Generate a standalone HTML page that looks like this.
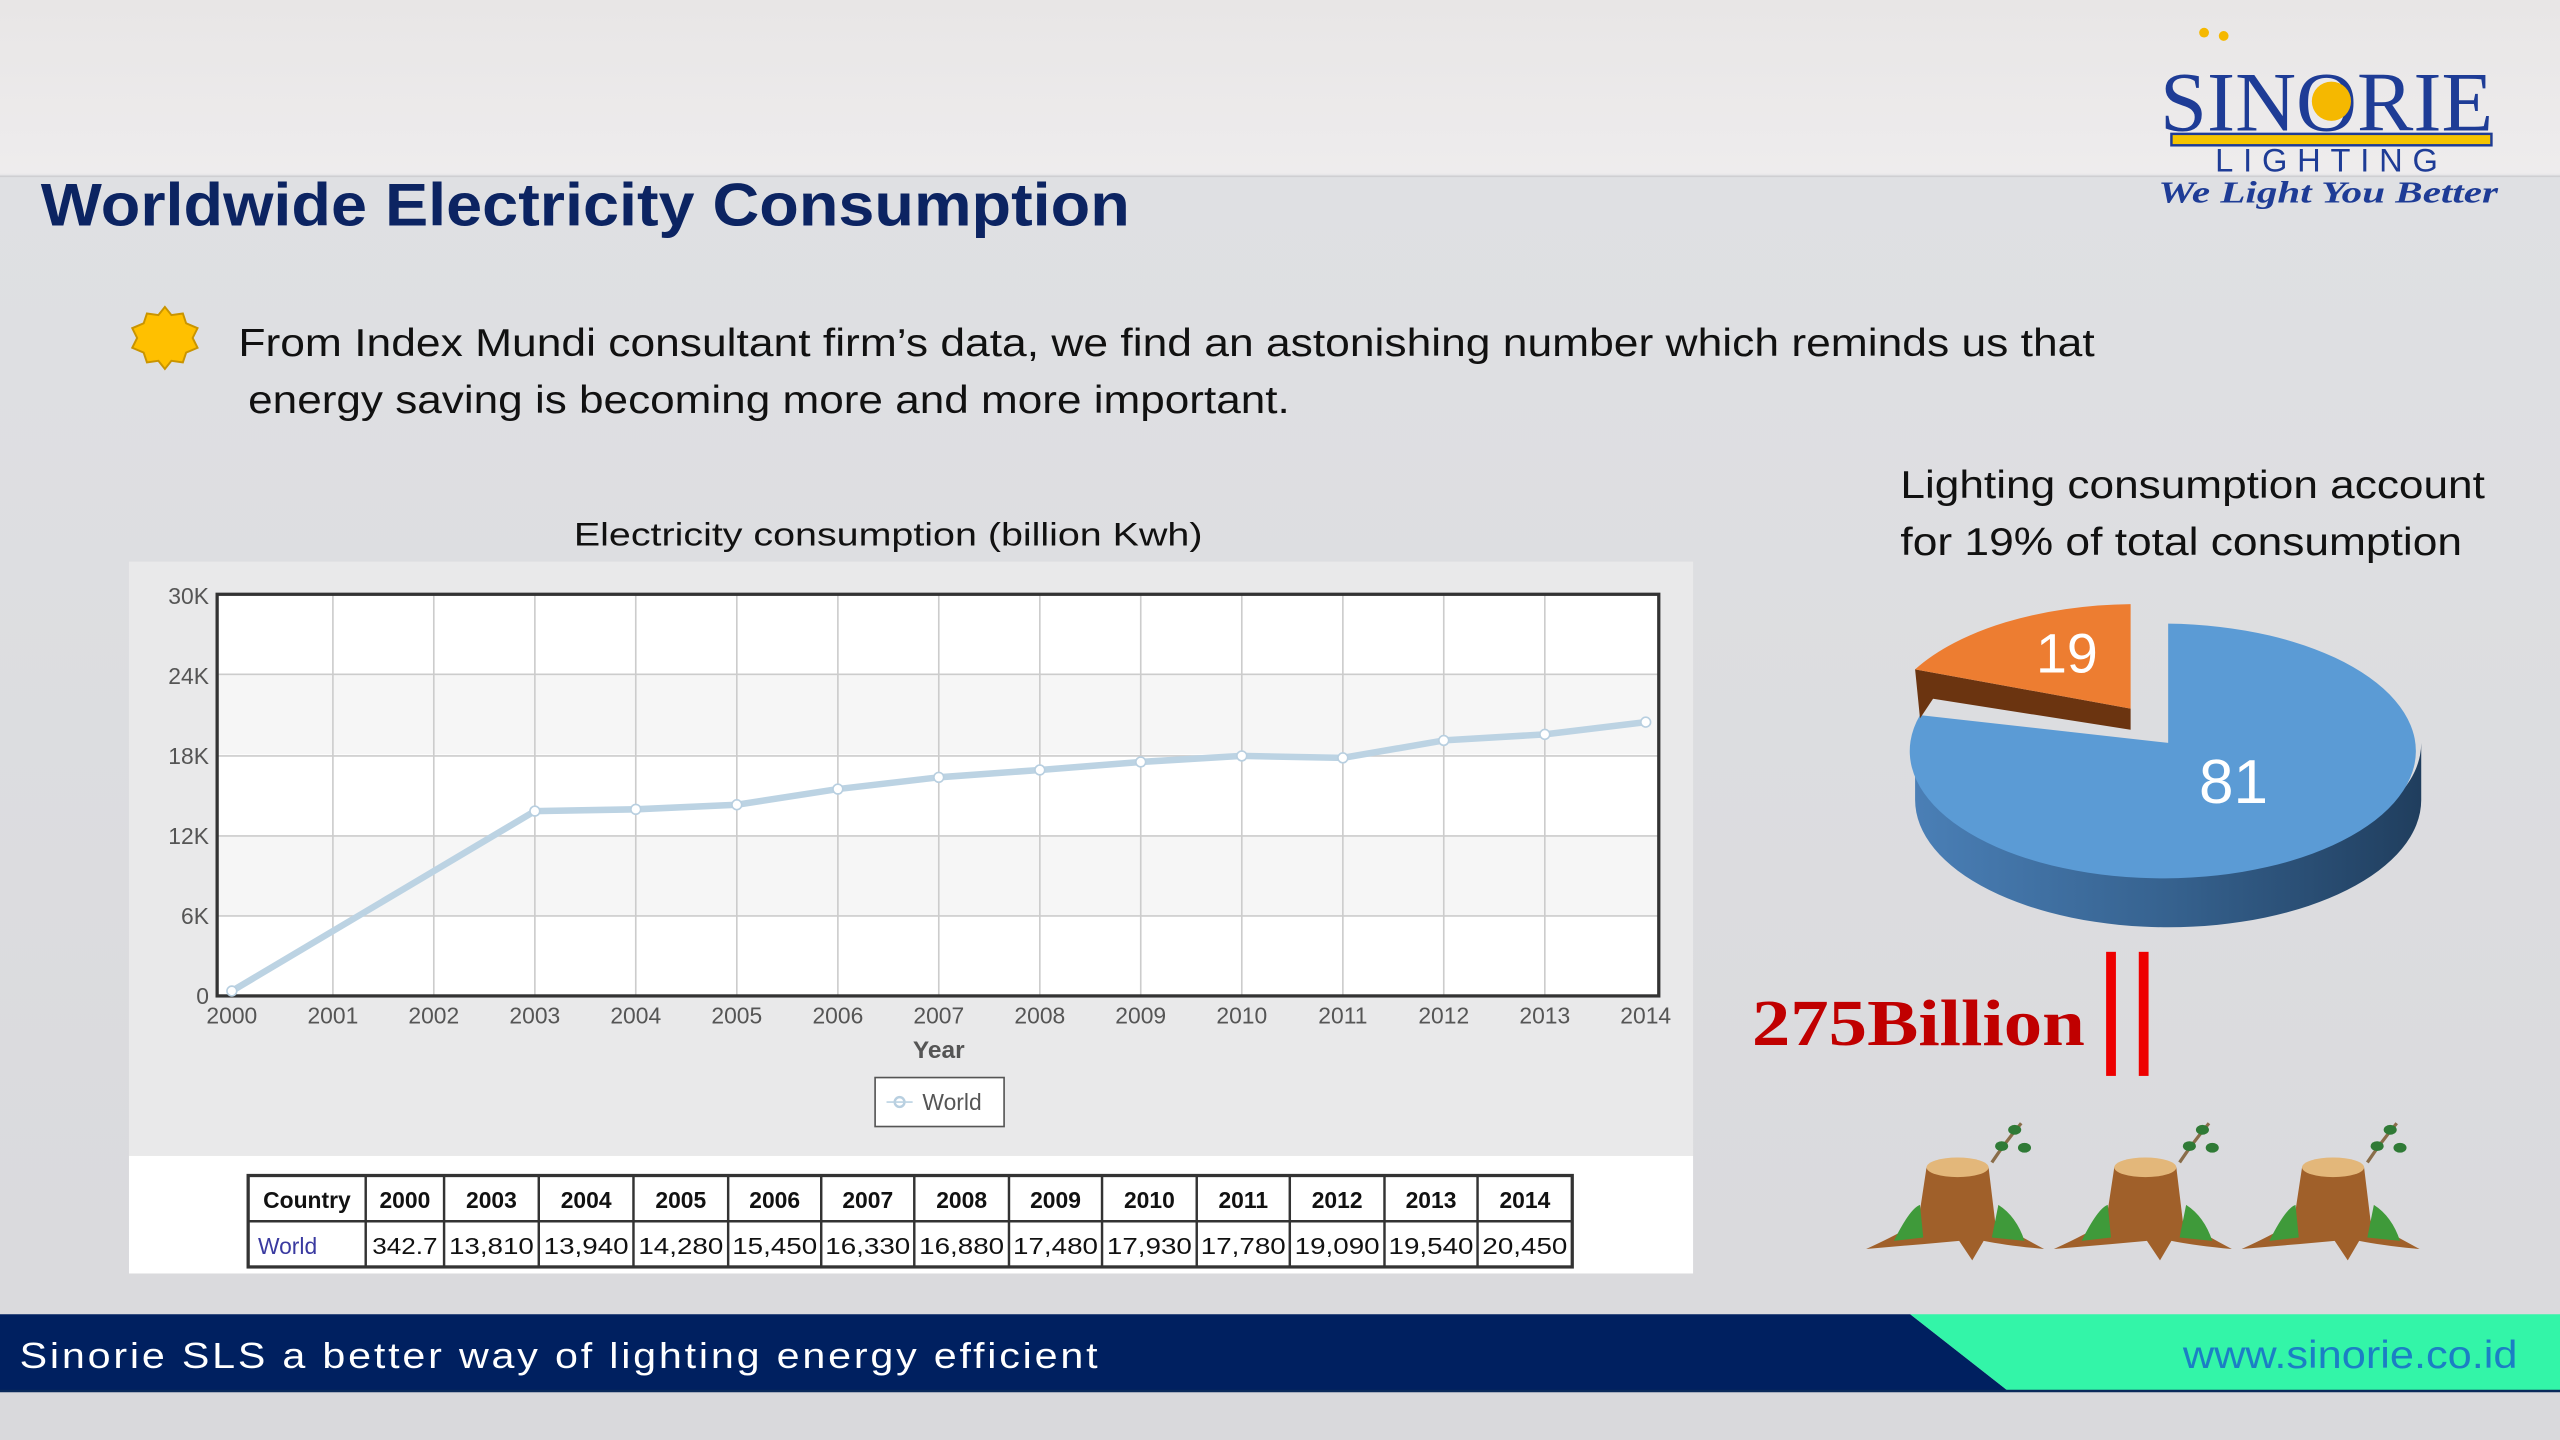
<!DOCTYPE html>
<html><head><meta charset="utf-8"><style>
html,body{margin:0;padding:0;}
body{width:2560px;height:1440px;overflow:hidden;background:#dcdde1;}
svg{display:block;}
text{font-family:"Liberation Sans",sans-serif;}
text.serif{font-family:"Liberation Serif",serif;}
</style></head><body>
<svg width="2560" height="1440" viewBox="0 0 1568 882" xmlns="http://www.w3.org/2000/svg">
<defs>
<linearGradient id="bg" x1="0" y1="0" x2="0" y2="1">
<stop offset="0" stop-color="#e8e6e6"/><stop offset="0.12" stop-color="#eeeced"/><stop offset="0.123" stop-color="#dfe0e3"/><stop offset="1" stop-color="#d9d9dc"/>
</linearGradient>
<linearGradient id="side" x1="0" y1="0" x2="1" y2="0">
<stop offset="0" stop-color="#4a7fb6"/><stop offset="0.5" stop-color="#36628f"/><stop offset="1" stop-color="#203e5e"/>
</linearGradient>
</defs>
<rect width="1568" height="882" fill="url(#bg)"/>
<line x1="0" y1="108" x2="1568" y2="108" stroke="#cfcfd2" stroke-width="1"/>

<text x="25" y="138" font-size="37" font-weight="bold" fill="#0c2462" textLength="667" lengthAdjust="spacingAndGlyphs">Worldwide Electricity Consumption</text>

<polygon points="101,188 105,193 112,192 114,198 121,201 118,207 121,213 114,216 112,222 105,221 101,226 97,221 90,222 88,216 81,213 84,207 81,201 88,198 90,192 97,193" fill="#ffc000" stroke="#c99400" stroke-width="1.2"/>
<text x="146" y="218" font-size="24" fill="#111" textLength="1137" lengthAdjust="spacingAndGlyphs">From Index Mundi consultant firm’s data, we find an astonishing number which reminds us that</text>
<text x="152" y="253" font-size="24" fill="#111" textLength="638" lengthAdjust="spacingAndGlyphs">energy saving is becoming more and more important.</text>

<text x="544" y="334" font-size="20" fill="#111" text-anchor="middle" textLength="385" lengthAdjust="spacingAndGlyphs">Electricity consumption (billion Kwh)</text>

<rect x="79" y="344" width="958" height="364" fill="#e9e9ea"/>
<rect x="133" y="364" width="883" height="246" fill="#ffffff"/>
<rect x="133" y="413" width="883" height="49" fill="#f6f6f6"/>
<rect x="133" y="512" width="883" height="49" fill="#f6f6f6"/>
<g stroke="#cccccc" stroke-width="1">
<line x1="133" y1="413" x2="1016" y2="413"/><line x1="133" y1="463" x2="1016" y2="463"/><line x1="133" y1="512" x2="1016" y2="512"/><line x1="133" y1="561" x2="1016" y2="561"/>
<line x1="203.9" y1="364" x2="203.9" y2="610"/><line x1="265.7" y1="364" x2="265.7" y2="610"/><line x1="327.6" y1="364" x2="327.6" y2="610"/><line x1="389.4" y1="364" x2="389.4" y2="610"/><line x1="451.3" y1="364" x2="451.3" y2="610"/><line x1="513.2" y1="364" x2="513.2" y2="610"/><line x1="575" y1="364" x2="575" y2="610"/><line x1="636.9" y1="364" x2="636.9" y2="610"/><line x1="698.7" y1="364" x2="698.7" y2="610"/><line x1="760.6" y1="364" x2="760.6" y2="610"/><line x1="822.5" y1="364" x2="822.5" y2="610"/><line x1="884.3" y1="364" x2="884.3" y2="610"/><line x1="946.2" y1="364" x2="946.2" y2="610"/>
</g>
<rect x="133" y="364" width="883" height="246" fill="none" stroke="#333" stroke-width="2"/>
<polyline points="142,607 327.6,496.8 389.4,495.7 451.3,492.9 513.2,483.3 575,476.1 636.9,471.6 698.7,466.7 760.6,463 822.5,464.2 884.3,453.5 946.2,449.8 1008,442.3" fill="none" stroke="#bcd3e3" stroke-width="4" stroke-linejoin="round"/>
<g fill="#fff" stroke="#b8cfe0" stroke-width="1">
<circle cx="142" cy="607" r="3"/><circle cx="327.6" cy="496.8" r="3"/><circle cx="389.4" cy="495.7" r="3"/><circle cx="451.3" cy="492.9" r="3"/><circle cx="513.2" cy="483.3" r="3"/><circle cx="575" cy="476.1" r="3"/><circle cx="636.9" cy="471.6" r="3"/><circle cx="698.7" cy="466.7" r="3"/><circle cx="760.6" cy="463" r="3"/><circle cx="822.5" cy="464.2" r="3"/><circle cx="884.3" cy="453.5" r="3"/><circle cx="946.2" cy="449.8" r="3"/><circle cx="1008" cy="442.3" r="3"/>
</g>
<g font-size="14" fill="#555" text-anchor="end">
<text x="128" y="370">30K</text><text x="128" y="419">24K</text><text x="128" y="468">18K</text><text x="128" y="517">12K</text><text x="128" y="566">6K</text><text x="128" y="615">0</text>
</g>
<g font-size="14" fill="#555" text-anchor="middle">
<text x="142" y="627">2000</text><text x="203.9" y="627">2001</text><text x="265.7" y="627">2002</text><text x="327.6" y="627">2003</text><text x="389.4" y="627">2004</text><text x="451.3" y="627">2005</text><text x="513.2" y="627">2006</text><text x="575" y="627">2007</text><text x="636.9" y="627">2008</text><text x="698.7" y="627">2009</text><text x="760.6" y="627">2010</text><text x="822.5" y="627">2011</text><text x="884.3" y="627">2012</text><text x="946.2" y="627">2013</text><text x="1008" y="627">2014</text>
</g>
<text x="575" y="648" font-size="15" font-weight="bold" fill="#555" text-anchor="middle">Year</text>
<rect x="536" y="660" width="79" height="30" fill="#fff" stroke="#555" stroke-width="1"/>
<circle cx="551" cy="675" r="3" fill="#fff" stroke="#b8cfe0" stroke-width="1.5"/>
<line x1="543" y1="675" x2="559" y2="675" stroke="#bcd3e3" stroke-width="1"/>
<text x="565" y="680" font-size="14" fill="#555">World</text>

<rect x="79" y="708" width="958" height="72" fill="#ffffff"/>
<rect x="152" y="720" width="811" height="56" fill="#fff" stroke="#333" stroke-width="2"/>
<line x1="152" y1="748" x2="963" y2="748" stroke="#333" stroke-width="1.5"/>
<g stroke="#333" stroke-width="1.5">
<line x1="224" y1="720" x2="224" y2="776"/><line x1="272" y1="720" x2="272" y2="776"/><line x1="330" y1="720" x2="330" y2="776"/><line x1="388" y1="720" x2="388" y2="776"/><line x1="446" y1="720" x2="446" y2="776"/><line x1="503" y1="720" x2="503" y2="776"/><line x1="560" y1="720" x2="560" y2="776"/><line x1="618" y1="720" x2="618" y2="776"/><line x1="675" y1="720" x2="675" y2="776"/><line x1="733" y1="720" x2="733" y2="776"/><line x1="790" y1="720" x2="790" y2="776"/><line x1="848" y1="720" x2="848" y2="776"/><line x1="905" y1="720" x2="905" y2="776"/>
</g>
<g font-size="14" fill="#111" text-anchor="middle">
<text x="188" y="740" font-weight="bold">Country</text><text x="248" y="740" font-weight="bold">2000</text><text x="301" y="740" font-weight="bold">2003</text><text x="359" y="740" font-weight="bold">2004</text><text x="417" y="740" font-weight="bold">2005</text><text x="474.5" y="740" font-weight="bold">2006</text><text x="531.5" y="740" font-weight="bold">2007</text><text x="589" y="740" font-weight="bold">2008</text><text x="646.5" y="740" font-weight="bold">2009</text><text x="704" y="740" font-weight="bold">2010</text><text x="761.5" y="740" font-weight="bold">2011</text><text x="819" y="740" font-weight="bold">2012</text><text x="876.5" y="740" font-weight="bold">2013</text><text x="934" y="740" font-weight="bold">2014</text>
<text x="248" y="768" textLength="40" lengthAdjust="spacingAndGlyphs">342.7</text><text x="301" y="768" textLength="52" lengthAdjust="spacingAndGlyphs">13,810</text><text x="359" y="768" textLength="52" lengthAdjust="spacingAndGlyphs">13,940</text><text x="417" y="768" textLength="52" lengthAdjust="spacingAndGlyphs">14,280</text><text x="474.5" y="768" textLength="52" lengthAdjust="spacingAndGlyphs">15,450</text><text x="531.5" y="768" textLength="52" lengthAdjust="spacingAndGlyphs">16,330</text><text x="589" y="768" textLength="52" lengthAdjust="spacingAndGlyphs">16,880</text><text x="646.5" y="768" textLength="52" lengthAdjust="spacingAndGlyphs">17,480</text><text x="704" y="768" textLength="52" lengthAdjust="spacingAndGlyphs">17,930</text><text x="761.5" y="768" textLength="52" lengthAdjust="spacingAndGlyphs">17,780</text><text x="819" y="768" textLength="52" lengthAdjust="spacingAndGlyphs">19,090</text><text x="876.5" y="768" textLength="52" lengthAdjust="spacingAndGlyphs">19,540</text><text x="934" y="768" textLength="52" lengthAdjust="spacingAndGlyphs">20,450</text>
</g>
<text x="158" y="768" font-size="14" fill="#3a3aa0">World</text>

<text x="1164" y="305" font-size="24" fill="#111" textLength="358" lengthAdjust="spacingAndGlyphs">Lighting consumption account</text>
<text x="1164" y="340" font-size="24" fill="#111" textLength="344" lengthAdjust="spacingAndGlyphs">for 19% of total consumption</text>

<path d="M1173,455 A155,78 0 0 0 1483,455 L1483,490 A155,78 0 0 1 1173,490 Z" fill="url(#side)"/>
<path d="M1328,455 L1328,382 A155,78 0 1 1 1176,438 Z" fill="#5b9bd5"/>
<path d="M1173,410 L1305,434 L1305,447 L1184,428 L1176,440 Z" fill="#6b3410"/>
<path d="M1305,434 L1305,370 A155,78 0 0 0 1173,410 Z" fill="#ed7d31"/>
<text x="1266" y="412" font-size="34" fill="#fff" text-anchor="middle">19</text>
<text x="1368" y="492" font-size="38" fill="#fff" text-anchor="middle">81</text>

<text class="serif" x="1073" y="640" font-size="40" font-weight="bold" fill="#c00000" textLength="204" lengthAdjust="spacingAndGlyphs">275Billion</text>
<rect x="1290" y="583" width="6" height="76" fill="#ee0000"/>
<rect x="1310" y="583" width="6" height="76" fill="#ee0000"/>

<g id="st">
<path d="M1143,765 Q1165,755 1175,748 L1180,715 Q1200,708 1218,715 L1222,748 Q1235,756 1252,765 Q1230,763 1215,760 L1208,772 L1200,760 L1178,762 Z" fill="#a0602a"/>
<ellipse cx="1199" cy="715" rx="19" ry="6" fill="#e3b77a"/>
<path d="M1160,760 Q1170,740 1176,738 L1178,758 Z M1220,758 L1224,738 Q1235,745 1240,760 Z" fill="#3f9a3a"/>
<path d="M1220,712 Q1228,700 1238,688" stroke="#8a6d4a" stroke-width="2" fill="none"/>
<ellipse cx="1234" cy="692" rx="4" ry="3" fill="#2f7a36"/><ellipse cx="1226" cy="702" rx="4" ry="3" fill="#2f7a36"/><ellipse cx="1240" cy="703" rx="4" ry="3" fill="#2f7a36"/>
</g>
<use href="#st" x="115"/>
<use href="#st" x="230"/>

<polygon points="0,805 1170,805 1230,852 0,852" fill="#002060"/>
<polygon points="1170,805 1568,805 1568,852 1230,852" fill="#33f5a8"/>
<line x1="0" y1="852" x2="1568" y2="852" stroke="#0a2a5a" stroke-width="1.5"/>
<text x="12" y="838" font-size="22" fill="#fff" letter-spacing="1.5" textLength="662" lengthAdjust="spacingAndGlyphs">Sinorie SLS a better way of lighting energy efficient</text>
<text x="1542" y="838" font-size="24" fill="#1b7fc4" text-anchor="end" textLength="205" lengthAdjust="spacingAndGlyphs">www.sinorie.co.id</text>

<text class="serif" x="1323" y="80" font-size="52" fill="#1e3c96" textLength="204" lengthAdjust="spacingAndGlyphs">SINORIE</text>
<circle cx="1428" cy="62" r="12" fill="#f5b800"/>
<circle cx="1350" cy="20" r="3" fill="#f5b800"/><circle cx="1362" cy="22" r="3" fill="#f5b800"/>
<rect x="1330" y="82" width="196" height="7" fill="#f5c400" stroke="#1e3c96" stroke-width="1.5"/>
<text x="1428" y="105" font-size="20" fill="#1e3c96" text-anchor="middle" letter-spacing="6">LIGHTING</text>
<text class="serif" x="1322" y="124" font-size="19" font-style="italic" font-weight="bold" fill="#1e3c96" textLength="208" lengthAdjust="spacingAndGlyphs">We Light You Better</text>
</svg>
</body></html>
